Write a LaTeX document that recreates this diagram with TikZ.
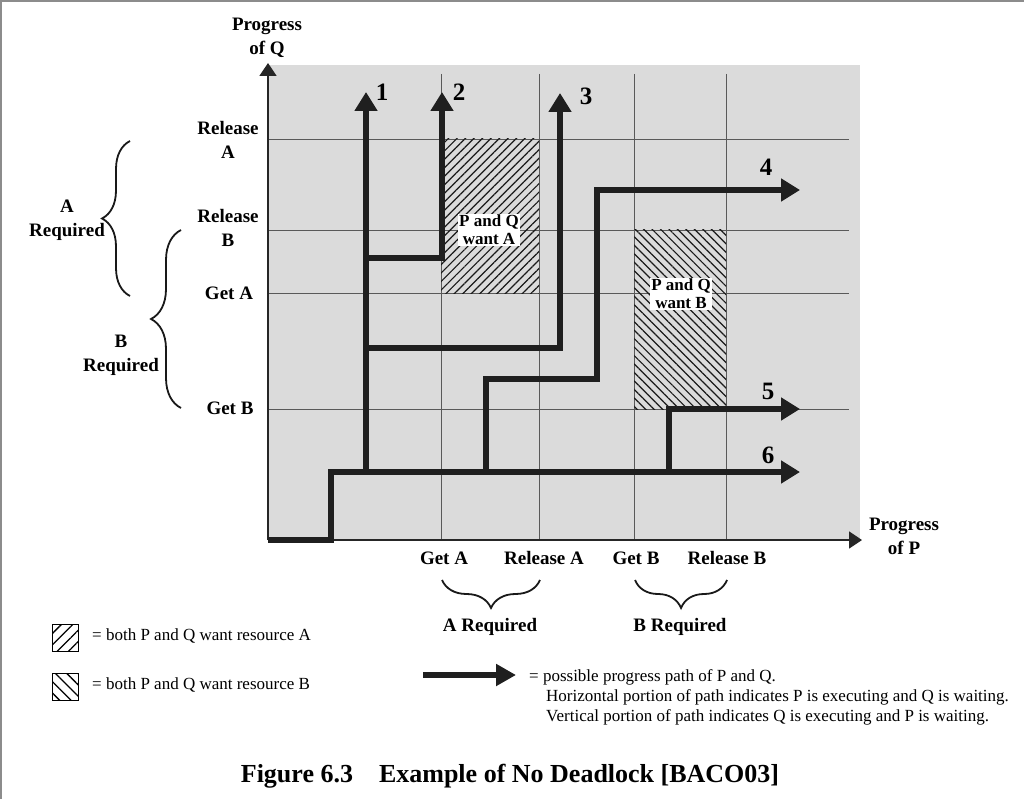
\documentclass[tikz,border=0pt]{standalone}
\usepackage{fontspec}
\setmainfont{Liberation Serif}
\usetikzlibrary{arrows.meta,patterns.meta,decorations.pathreplacing}

\tikzset{
  gridline/.style={black!65, line width=0.9pt},
  axisline/.style={black!85, line width=1.6pt, -{Triangle[length=13pt,width=17pt]}},
  pathline/.style={black!88, line width=5.5pt, -{Triangle[length=19pt,width=22pt]}},
  ticklabel/.style={font=\bfseries\fontsize{19}{24}\selectfont, align=center, inner sep=0pt},
  pathnum/.style={font=\bfseries\fontsize{25}{27}\selectfont, inner sep=0pt},
  zonelabel/.style={font=\bfseries\fontsize{17}{18}\selectfont, align=center, fill=white, inner sep=1.5pt},
  legendtext/.style={font=\fontsize{17}{19}\selectfont, anchor=west, inner sep=0pt},
  bracket/.style={black!90, line width=1.8pt, decorate},
  hatchA/.style={pattern={Lines[angle=45,distance=6pt,line width=1.2pt]}, pattern color=black!90},
  hatchB/.style={pattern={Lines[angle=-45,distance=6pt,line width=1.2pt]}, pattern color=black!90},
  keyA/.style={pattern={Lines[angle=45,distance=8pt,line width=1.3pt]}, pattern color=black},
  keyB/.style={pattern={Lines[angle=-45,distance=8pt,line width=1.3pt]}, pattern color=black}
}

\begin{document}
\begin{tikzpicture}[x=1pt,y=-1pt]
    \useasboundingbox (0,0) rectangle (1024,799);
    % page frame (top and left only)
    \draw[black!45, line width=1.5pt] (0,1) -- (1024,1);
    \draw[black!45, line width=1.5pt] (1,0) -- (1,799);

    % shaded progress area
    \fill[black!14] (268,65) rectangle (860,540);

    % grid
    \foreach \x in {441,539,634,726} {
        \draw[gridline] (\x,74) -- (\x,540);
    }
    \foreach \y in {139,230,293,409} {
        \draw[gridline] (268,\y) -- (849,\y);
    }

    % regions where both want the same resource
    \fill[hatchA] (441,139) rectangle (539,293);
    \fill[hatchB] (634,230) rectangle (726,409);
    \node[zonelabel] (wantA) at (489,230) {P and Q\\want A};
    \node[zonelabel] (wantB) at (681,294) {P and Q\\want B};

    % axes
    \draw[axisline] (268,540) -- (268,63);
    \draw[axisline] (268,540) -- (862,540);
    \node[ticklabel] (progQ) at (267,38) {Progress\\of Q};
    \node[ticklabel] (progP) at (904,536) {Progress\\of P};

    % labels on the Q axis
    \node[ticklabel] (relA) at (228,140) {Release\\A};
    \node[ticklabel] (relB) at (228,228) {Release\\B};
    \node[ticklabel] (getAq) at (229,293) {Get A};
    \node[ticklabel] (getBq) at (230,408) {Get B};

    % labels on the P axis
    \node[ticklabel] (getAp) at (444,558) {Get A};
    \node[ticklabel] (relAp) at (544,558) {Release A};
    \node[ticklabel] (getBp) at (636,558) {Get B};
    \node[ticklabel] (relBp) at (727,558) {Release B};

    % braces
    \draw[bracket, decoration={brace,amplitude=28pt}] (130,296) -- (130,141);
    \draw[bracket, decoration={brace,amplitude=30pt}] (181,408) -- (181,230);
    \node[ticklabel] (reqAq) at (67,220) {A\\Required};
    \node[ticklabel] (reqBq) at (121,355) {B\\Required};
    \draw[bracket, decoration={brace,amplitude=28pt}] (540,580) -- (442,580);
    \draw[bracket, decoration={brace,amplitude=28pt}] (727,580) -- (635,580);
    \node[ticklabel] (reqAp) at (490,627) {A Required};
    \node[ticklabel] (reqBp) at (680,627) {B Required};

    % progress paths
    \draw[pathline] (268,540) -- (331,540) -- (331,472) -- (800,472);
    \draw[pathline] (366,472) -- (366,92);
    \draw[pathline] (366,258) -- (442,258) -- (442,92);
    \draw[pathline] (366,348) -- (560,348) -- (560,93);
    \draw[pathline] (486,472) -- (486,379) -- (597,379) -- (597,190) -- (800,190);
    \draw[pathline] (669,472) -- (669,409) -- (800,409);
    \node[pathnum] (n1) at (382,92) {1};
    \node[pathnum] (n2) at (459,92) {2};
    \node[pathnum] (n3) at (586,96) {3};
    \node[pathnum] (n4) at (766,167) {4};
    \node[pathnum] (n5) at (768,391) {5};
    \node[pathnum] (n6) at (768,455) {6};

    % legend
    \draw[keyA, line width=1pt] (52,624) rectangle (78,651);
    \draw[keyB, line width=1pt] (52,673) rectangle (78,700);
    \node[legendtext] (legA) at (92,636) {= both P and Q want resource A};
    \node[legendtext] (legB) at (92,685) {= both P and Q want resource B};
    \draw[black!88, line width=6pt, -{Triangle[length=20pt,width=21pt]}] (423,675) -- (516,675);
    \node[legendtext] (legP1) at (529,677) {= possible progress path of P and Q.};
    \node[legendtext] (legP2) at (546,697) {Horizontal portion of path indicates P is executing and Q is waiting.};
    \node[legendtext] (legP3) at (546,717) {Vertical portion of path indicates Q is executing and P is waiting.};

    % caption
    \node[font=\bfseries\fontsize{26}{30}\selectfont] (caption) at (510,776) {Figure 6.3\quad Example of No Deadlock [BACO03]};
\end{tikzpicture}
\end{document}
